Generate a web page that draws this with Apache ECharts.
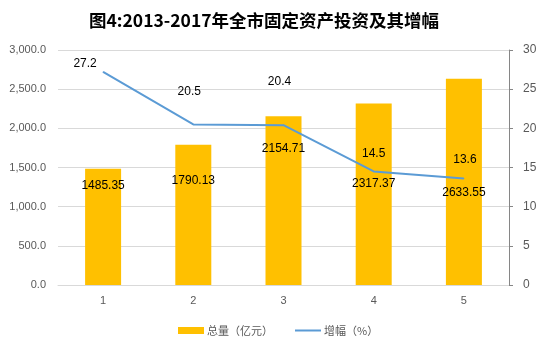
<!DOCTYPE html>
<html>
<head>
<meta charset="utf-8">
<script src="https://cdn.jsdelivr.net/npm/echarts@6/dist/echarts.min.js"></script>
<style>
html,body{margin:0;padding:0;background:#fff;}
#chart{width:544px;height:347px;}
</style>
</head>
<body>
<div id="chart"></div>
<script>
// ---- data ----
const titleText = '图4:2013-2017年全市固定资产投资及其增幅';
const categories = ['1', '2', '3', '4', '5'];
const totalName = '总量（亿元）';
const growthName = '增幅（%）';
const totalValues = [1485.35, 1790.13, 2154.71, 2317.37, 2633.55];
const growthValues = [27.2, 20.5, 20.4, 14.5, 13.6];
const leftTicks = { min: 0, max: 3000, interval: 500 };
const rightTicks = { min: 0, max: 30, interval: 5 };

// ---- label placement (style only) ----
const barLabelOffsets = [[0, 6], [0, 25], [0, 21], [0, 69], [0, 103]];
const lineLabelOffsets = [[-18, 3], [-4, -21], [-4, -32], [0, -6], [1, -7]];

function fmtLeft(v) {
  const s = v.toFixed(1);
  const parts = s.split('.');
  parts[0] = parts[0].replace(/\B(?=(\d{3})+(?!\d))/g, ',');
  return parts.join('.');
}

const chart = echarts.init(document.getElementById('chart'), null, { renderer: 'canvas' });
const labelFont = 'Liberation Sans';
const gray = '#595959';
const lineColor = '#5b9bd5';

const option = {
  animation: false,
  backgroundColor: '#fff',
  title: {
    text: titleText,
    left: 89,
    top: 12,
    padding: 0,
    textStyle: { fontFamily: 'Noto Sans CJK SC', fontWeight: 'bold', fontSize: 17.5, color: '#000' }
  },
  legend: {
    left: 173,
    top: 320,
    itemWidth: 26,
    itemHeight: 7,
    itemGap: 21,
    textStyle: { fontFamily: 'Noto Sans CJK SC', fontSize: 11, color: gray, padding: [0, 0, 0, -2] },
    data: [
      { name: totalName, icon: 'rect' },
      { name: growthName, itemStyle: { opacity: 0 } }
    ]
  },
  grid: { left: 58, right: 35, top: 50, bottom: 62 },
  xAxis: {
    type: 'category',
    data: categories,
    axisLine: { show: true, lineStyle: { color: '#d9d9d9', width: 1 } },
    axisTick: { show: false },
    axisLabel: { color: gray, fontFamily: labelFont, fontSize: 11, margin: 10 }
  },
  yAxis: [
    {
      type: 'value',
      min: leftTicks.min, max: leftTicks.max, interval: leftTicks.interval,
      axisLine: { show: false },
      axisTick: { show: false },
      splitLine: { show: true, lineStyle: { color: '#d9d9d9', width: 1 } },
      axisLabel: { color: gray, fontFamily: labelFont, fontSize: 11, margin: 12, formatter: fmtLeft }
    },
    {
      type: 'value',
      position: 'right',
      min: rightTicks.min, max: rightTicks.max, interval: rightTicks.interval,
      axisLine: { show: true, lineStyle: { color: '#868686', width: 1 } },
      axisTick: { show: true, length: 4, lineStyle: { color: '#868686' } },
      splitLine: { show: false },
      axisLabel: { color: gray, fontFamily: labelFont, fontSize: 12, margin: 14 }
    }
  ],
  series: [
    {
      name: totalName,
      type: 'bar',
      yAxisIndex: 0,
      barWidth: 36,
      itemStyle: { color: '#ffc000' },
      z: 2,
      data: totalValues.map((v, i) => ({
        value: v,
        label: { offset: barLabelOffsets[i] }
      })),
      label: {
        show: true,
        position: 'insideTop',
        color: '#000',
        fontFamily: labelFont,
        fontSize: 12,
        formatter: p => String(p.value)
      }
    },
    {
      name: growthName,
      type: 'line',
      yAxisIndex: 1,
      symbol: 'circle',
      symbolSize: 1,
      showSymbol: true,
      z: 3,
      lineStyle: { color: lineColor, width: 2 },
      itemStyle: { color: lineColor },
      data: growthValues.map((v, i) => ({
        value: v,
        label: { offset: lineLabelOffsets[i] }
      })),
      label: {
        show: true,
        position: 'top',
        color: '#000',
        fontFamily: labelFont,
        fontSize: 12,
        formatter: p => Number(p.value).toFixed(1)
      }
    }
  ]
};
chart.setOption(option);
</script>
</body>
</html>
